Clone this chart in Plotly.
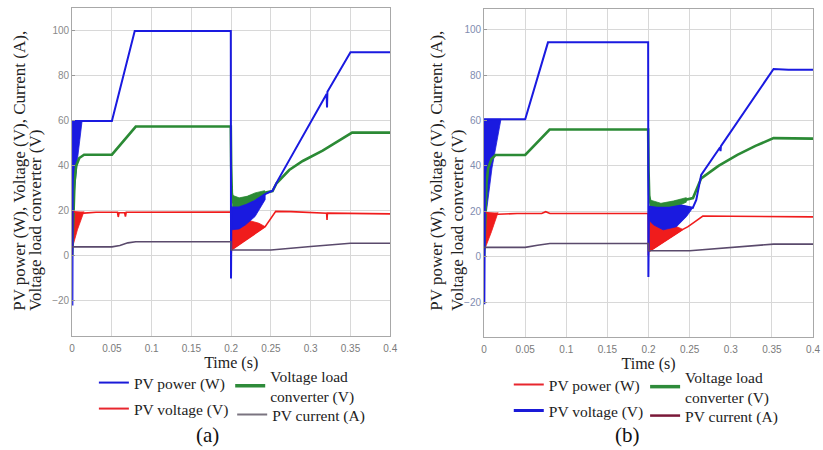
import plotly.graph_objects as go

# ---------------------------------------------------------------------------
# Axis ticks
# ---------------------------------------------------------------------------
TIME_TICKS = [0, 0.05, 0.1, 0.15, 0.2, 0.25, 0.3, 0.35, 0.4]
TIME_TICK_TEXT = ["0", "0.05", "0.1", "0.15", "0.2", "0.25", "0.3", "0.35", "0.4"]
VALUE_TICKS = [-20, 0, 20, 40, 60, 80, 100]

# ---------------------------------------------------------------------------
# Case (a)
# ---------------------------------------------------------------------------
# PV power (W)
A_POWER_T = [0, 0.0003, 0.0006, 0.0006, 0.05, 0.0787, 0.1995, 0.1998, 0.2003,
             0.21, 0.218, 0.23, 0.2427, 0.252, 0.259, 0.32, 0.3205, 0.321, 0.35, 0.4]
A_POWER_V = [0, -22, 20, 60, 60, 100, 100, -10, 21.5,
             21.5, 22.5, 24.5, 27.5, 29, 33.8, 72, 66, 73, 90.5, 90.5]
# oscillation envelopes of the PV power (start-up and step at 0.2 s)
A_POWER_ENV1_T = [0.0006, 0.0006, 0.0066, 0.0108, 0.0125, 0.0006]
A_POWER_ENV1_V = [60, 20, 42.7, 56, 60, 60]
A_POWER_ENV2_T = [0.2003, 0.21, 0.218, 0.23, 0.2427, 0.2427, 0.23, 0.218, 0.21, 0.2003]
A_POWER_ENV2_V = [21.5, 21.5, 22.5, 24.5, 27.5, 25, 17.5, 13.8, 12, 11.6]

# Voltage load converter (V)
A_VLOAD_T = [0, 0.0015, 0.003, 0.005, 0.009, 0.015, 0.05, 0.08, 0.1995, 0.2,
             0.2008, 0.2025, 0.21, 0.225, 0.24, 0.252, 0.257, 0.273, 0.29, 0.315,
             0.335, 0.352, 0.4]
A_VLOAD_V = [0, 22, 33, 40, 43.5, 45, 45, 57.5, 57.5, 40,
             28, 24, 24.5, 26.5, 28, 28.8, 32.3, 38.2, 42.2, 46.8,
             51, 54.8, 54.8]
A_VLOAD_ENV_T = [0.2012, 0.21, 0.22, 0.23, 0.242, 0.242, 0.23, 0.22, 0.21, 0.2012]
A_VLOAD_ENV_V = [27, 25.8, 26.5, 28, 29, 27, 24.9, 22.5, 20.4, 19.5]

# PV voltage (V)
A_PVV_T = [0, 0.0006, 0.0149, 0.03, 0.057, 0.058, 0.059, 0.066, 0.067, 0.068,
           0.1995, 0.2, 0.2003, 0.2003, 0.2427, 0.248, 0.256, 0.275, 0.32,
           0.3205, 0.321, 0.4]
A_PVV_V = [0, 19.7, 19, 19.4, 19.4, 17.3, 19.2, 19.2, 17.5, 19.4,
           19.5, 0.5, 17, 2.7, 13, 15.5, 19.8, 19.7, 19,
           16, 19, 18.7]
A_PVV_ENV1_T = [0.0006, 0.0006, 0.0066, 0.0149, 0.0149]
A_PVV_ENV1_V = [19.7, 4, 11.6, 19, 19.7]
A_PVV_ENV2_T = [0.2003, 0.22, 0.235, 0.2427, 0.22, 0.2003]
A_PVV_ENV2_V = [17.5, 16, 14.5, 13, 7.5, 2.7]

# PV current (A)
A_PVI_T = [0, 0.05, 0.06, 0.07, 0.08, 0.1995, 0.2, 0.25, 0.3, 0.35, 0.4]
A_PVI_V = [4, 4, 4.6, 5.8, 6.3, 6.3, 2.6, 2.6, 4.2, 5.6, 5.6]

# ---------------------------------------------------------------------------
# Case (b)
# ---------------------------------------------------------------------------
B_POWER_T = [0, 0.0003, 0.0008, 0.0008, 0.05, 0.0777, 0.1995, 0.1998, 0.2005,
             0.21, 0.225, 0.24, 0.2538, 0.258, 0.264, 0.287, 0.2875, 0.288,
             0.352, 0.37, 0.4]
B_POWER_V = [0, -21, 16, 60.5, 60.5, 94.4, 94.4, -9, 22,
             21.5, 21.5, 22.5, 21.5, 25, 36, 48.2, 46.5, 48.7,
             82.7, 82.3, 82.3]
B_POWER_ENV1_T = [0.0008, 0.0008, 0.0096, 0.0205, 0.0008]
B_POWER_ENV1_V = [60.5, 14, 39, 60.5, 60.5]
B_POWER_ENV2_T = [0.2005, 0.21, 0.225, 0.24, 0.2538, 0.246, 0.234, 0.2178, 0.206, 0.2005]
B_POWER_ENV2_V = [22, 21.5, 21.5, 22.5, 21.5, 17.6, 13.2, 11.8, 14, 16]

B_VLOAD_T = [0, 0.0015, 0.003, 0.005, 0.009, 0.014, 0.05, 0.0797, 0.1995, 0.2,
             0.2008, 0.203, 0.215, 0.23, 0.246, 0.254, 0.264, 0.285, 0.308,
             0.33, 0.352, 0.4]
B_VLOAD_V = [0, 22, 33, 39, 43, 44.8, 44.8, 56, 56, 38,
             27, 22, 22.5, 23.8, 25, 25.8, 34.5, 40, 44.8,
             48.8, 52.2, 52]
B_VLOAD_ENV_T = [0.2015, 0.215, 0.23, 0.2459, 0.2459, 0.23, 0.215, 0.2015]
B_VLOAD_ENV_V = [25, 23.5, 24.5, 26, 24, 21.5, 20.4, 19.5]

B_PVV_T = [0, 0.0006, 0.017, 0.04, 0.07, 0.075, 0.08, 0.1995, 0.1998, 0.2003,
           0.2003, 0.2418, 0.248, 0.257, 0.266, 0.3, 0.4]
B_PVV_V = [0, 19.5, 18.7, 19, 19, 19.8, 19, 19, 0.5, 17.6,
           2.2, 12, 13.2, 15.5, 17.9, 17.8, 17.5]
B_PVV_ENV1_T = [0.0006, 0.0006, 0.009, 0.017, 0.017]
B_PVV_ENV1_V = [19.5, 3, 11, 18.7, 19.5]
B_PVV_ENV2_T = [0.2003, 0.22, 0.2418, 0.22, 0.2003]
B_PVV_ENV2_V = [17.6, 15.5, 12, 7, 2.2]

B_PVI_T = [0, 0.05, 0.065, 0.08, 0.1995, 0.2, 0.25, 0.3, 0.352, 0.4]
B_PVI_V = [4.1, 4.1, 5, 5.8, 5.8, 2.6, 2.6, 4, 5.5, 5.5]

# Legend captions (same wording under both cases)
LEGEND_LABELS = ["PV power (W)", "PV voltage (V)",
                 "Voltage load<br>converter (V)", "PV current (A)"]

# ---------------------------------------------------------------------------
# Styling
# ---------------------------------------------------------------------------
BLUE = "#1a1ae0"
GREEN = "#2b8a35"
RED = "#f01c1c"
PURPLE = "#5a4a6c"

# legend key colours / widths as printed under each case
KEY_STYLE_A = [("#1a1ad8", 2), ("#e8262e", 2), ("#2e8b3a", 3.5), ("#7a7480", 2)]
KEY_STYLE_B = [("#e8262e", 2), ("#1a1ad8", 3), ("#2e8b3a", 3.5), ("#7a1838", 2.5)]
# legend key anchor positions in pixels (left edge, vertical centre)
KEY_POS_A = [(92, 383), (92, 409), (230, 386), (232, 415)]
KEY_POS_B = [(512, 385), (512, 411), (650, 387), (650, 416)]

SERIF = "Liberation Serif"
SANS = "Liberation Sans"
W, H = 823, 450

fig = go.Figure()


def band(t, v, color, xa, ya):
    fig.add_trace(go.Scatter(x=t, y=v, mode="lines", fill="toself", fillcolor=color,
                             line=dict(color=color, width=0.8), hoverinfo="skip",
                             showlegend=False, xaxis=xa, yaxis=ya))


def curve(t, v, color, width, xa, ya):
    fig.add_trace(go.Scatter(x=t, y=v, mode="lines", line=dict(color=color, width=width),
                             hoverinfo="skip", showlegend=False, xaxis=xa, yaxis=ya))


# case (a)
band(A_PVV_ENV1_T, A_PVV_ENV1_V, RED, "x", "y")
band(A_PVV_ENV2_T, A_PVV_ENV2_V, RED, "x", "y")
band(A_VLOAD_ENV_T, A_VLOAD_ENV_V, GREEN, "x", "y")
band(A_POWER_ENV1_T, A_POWER_ENV1_V, BLUE, "x", "y")
band(A_POWER_ENV2_T, A_POWER_ENV2_V, BLUE, "x", "y")
curve(A_VLOAD_T, A_VLOAD_V, GREEN, 2.6, "x", "y")
curve(A_PVV_T, A_PVV_V, RED, 1.6, "x", "y")
curve(A_POWER_T, A_POWER_V, BLUE, 2.0, "x", "y")
curve(A_PVI_T, A_PVI_V, PURPLE, 1.6, "x", "y")

# case (b)
band(B_PVV_ENV1_T, B_PVV_ENV1_V, RED, "x2", "y2")
band(B_PVV_ENV2_T, B_PVV_ENV2_V, RED, "x2", "y2")
band(B_VLOAD_ENV_T, B_VLOAD_ENV_V, GREEN, "x2", "y2")
band(B_POWER_ENV1_T, B_POWER_ENV1_V, BLUE, "x2", "y2")
band(B_POWER_ENV2_T, B_POWER_ENV2_V, BLUE, "x2", "y2")
curve(B_VLOAD_T, B_VLOAD_V, GREEN, 2.6, "x2", "y2")
curve(B_PVV_T, B_PVV_V, RED, 1.6, "x2", "y2")
curve(B_POWER_T, B_POWER_V, BLUE, 2.0, "x2", "y2")
curve(B_PVI_T, B_PVI_V, PURPLE, 1.6, "x2", "y2")


def px_x(p):
    return p / W


def px_y(p):
    return 1 - p / H


legend_base = dict(orientation="v", bgcolor="rgba(0,0,0,0)", borderwidth=0,
                   font=dict(family=SERIF, size=15.5, color="#222"),
                   tracegroupgap=0, itemwidth=30, xanchor="left", yanchor="middle",
                   itemclick=False, itemdoubleclick=False)

# one legend box per key so each caption sits where it is printed
legend_layout = {}
n = 0
for styles, positions in [(KEY_STYLE_A, KEY_POS_A), (KEY_STYLE_B, KEY_POS_B)]:
    for label, (color, width), (lx, ly) in zip(LEGEND_LABELS, styles, positions):
        n += 1
        lid = "legend" if n == 1 else f"legend{n}"
        fig.add_trace(go.Scatter(x=[None], y=[None], mode="lines", name=label,
                                 line=dict(color=color, width=width),
                                 legend=lid, showlegend=True))
        legend_layout[lid] = dict(x=px_x(lx), y=px_y(ly), **legend_base)

common_x = dict(range=[0, 0.4], tickvals=TIME_TICKS, ticktext=TIME_TICK_TEXT,
                showgrid=True, gridcolor="#d8d8d8", gridwidth=1, zeroline=False,
                showline=True, linecolor="#a8a8a8", linewidth=1, mirror=True,
                ticks="", ticklabelstandoff=3,
                tickfont=dict(family=SANS, size=10, color="#7a7a7a"),
                title=dict(text="Time (s)", font=dict(family=SERIF, size=16, color="#222"),
                           standoff=3))
common_y = dict(tickvals=VALUE_TICKS, showgrid=True, gridcolor="#d8d8d8", gridwidth=1,
                zeroline=False, showline=True, linecolor="#a8a8a8", linewidth=1,
                mirror=True, ticks="inside", ticklen=3, tickcolor="#999")

fig.update_layout(
    width=W, height=H, margin=dict(l=0, r=0, t=0, b=0),
    paper_bgcolor="white", plot_bgcolor="white", showlegend=True,
    xaxis=dict(domain=[px_x(70), px_x(392)], anchor="y", **common_x),
    yaxis=dict(domain=[px_y(336), px_y(8)], range=[-35.6, 110.2], anchor="x",
               tickfont=dict(family=SANS, size=10, color="#8a8a8a"), **common_y),
    xaxis2=dict(domain=[px_x(487), px_x(820)], anchor="y2", **common_x),
    yaxis2=dict(domain=[px_y(337), px_y(9)], range=[-35.4, 109.1], anchor="x2",
                tickfont=dict(family=SANS, size=10, color="#7f8db0"), **common_y),
    **legend_layout,
)

# Two-line y-axis captions and case labels
ytitle_font = dict(family=SERIF, size=17, color="#222")
for line1_x, line2_x in [(16, 33), (438, 460)]:
    fig.add_annotation(text="PV power (W), Voltage (V), Current (A),", textangle=-90,
                       xref="paper", yref="paper", x=px_x(line1_x), y=px_y(313),
                       xanchor="center", yanchor="bottom", showarrow=False,
                       font=ytitle_font)
    fig.add_annotation(text="Voltage load converter (V)", textangle=-90,
                       xref="paper", yref="paper", x=px_x(line2_x), y=px_y(313),
                       xanchor="center", yanchor="bottom", showarrow=False,
                       font=ytitle_font)

for label, cx in [("(a)", 207), ("(b)", 632)]:
    fig.add_annotation(text=label, xref="paper", yref="paper", x=px_x(cx), y=px_y(435),
                       xanchor="center", yanchor="middle", showarrow=False,
                       font=dict(family=SERIF, size=21, color="#111"))

fig.write_html("out.html")
